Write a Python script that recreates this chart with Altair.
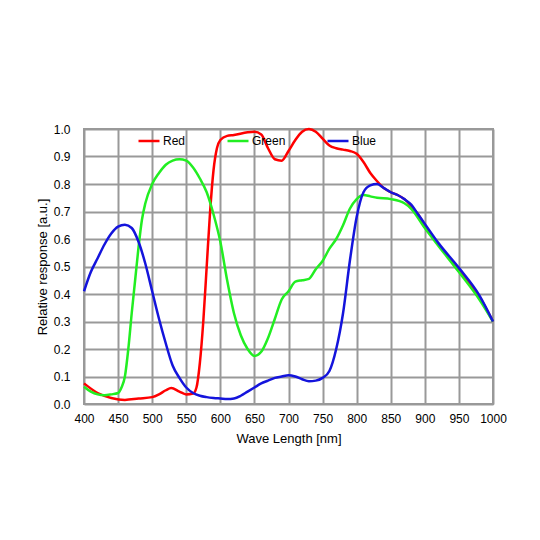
import altair as alt
import pandas as pd

red_x = [400,420,440,460,480,500,510,520,528,540,550,560,565,570,575,580,585,590,595,600,610,620,640,650,660,670,680,690,700,710,720,730,740,750,760,770,780,790,800,810,820,830,840,850,860,870,880,890,900,920,950,980,1000]
red_y = [0.075,0.04,0.022,0.015,0.02,0.025,0.035,0.05,0.058,0.045,0.035,0.038,0.06,0.15,0.3,0.5,0.7,0.85,0.93,0.96,0.975,0.978,0.988,0.99,0.98,0.93,0.89,0.885,0.92,0.96,0.99,1.0,0.99,0.965,0.94,0.93,0.925,0.92,0.91,0.88,0.84,0.81,0.785,0.77,0.76,0.745,0.72,0.69,0.65,0.58,0.49,0.39,0.30]

green_x = [400,410,420,430,440,450,455,460,465,470,475,480,485,490,500,510,520,530,540,550,560,570,580,590,600,610,620,630,640,650,660,670,680,690,700,710,720,730,740,750,760,770,780,790,800,810,820,830,850,870,880,900,920,950,980,1000]
green_y = [0.063,0.045,0.035,0.032,0.035,0.04,0.06,0.1,0.2,0.33,0.45,0.57,0.67,0.73,0.80,0.84,0.87,0.885,0.89,0.885,0.86,0.82,0.77,0.69,0.59,0.45,0.33,0.25,0.2,0.175,0.19,0.24,0.31,0.38,0.41,0.445,0.45,0.455,0.49,0.52,0.565,0.6,0.65,0.71,0.745,0.76,0.755,0.75,0.745,0.73,0.71,0.64,0.575,0.48,0.38,0.30]

blue_x = [400,410,420,430,440,450,460,470,480,490,500,510,520,530,540,550,560,570,580,590,600,610,620,630,640,650,660,670,680,690,700,710,720,730,740,750,760,770,780,790,800,810,820,830,840,850,860,870,880,890,900,920,950,980,1000]
blue_y = [0.41,0.48,0.53,0.58,0.62,0.645,0.652,0.64,0.59,0.51,0.41,0.31,0.22,0.14,0.095,0.06,0.04,0.03,0.025,0.022,0.02,0.018,0.02,0.03,0.045,0.06,0.075,0.085,0.095,0.1,0.105,0.1,0.09,0.083,0.085,0.095,0.12,0.2,0.33,0.52,0.68,0.77,0.795,0.8,0.785,0.77,0.76,0.745,0.725,0.69,0.655,0.585,0.495,0.395,0.30]

series = ["Red", "Green", "Blue"]
colors = ["#ff0000", "#22ee22", "#1414dc"]
x_ticks = list(range(400, 1001, 50))
y_ticks = [round(i * 0.1, 1) for i in range(11)]

rows = []
for name, xs, ys in [("Red", red_x, red_y), ("Green", green_x, green_y), ("Blue", blue_x, blue_y)]:
    for i, (a, b) in enumerate(zip(xs, ys)):
        rows.append({"series": name, "wl": a, "resp": b, "order": i})
df = pd.DataFrame(rows)

font = "Liberation Sans"

chart = alt.Chart(df).mark_line(strokeWidth=2.5, interpolate="monotone").encode(
    x=alt.X("wl:Q", title="Wave Length [nm]",
            scale=alt.Scale(domain=[400, 1000], nice=False, zero=False),
            axis=alt.Axis(values=x_ticks, format="d", grid=True, ticks=False, labelPadding=9,
                          labelOverlap=False, labelFlush=False,
                          titlePadding=8, domain=False)),
    y=alt.Y("resp:Q", title="Relative response [a.u.]",
            scale=alt.Scale(domain=[0, 1], nice=False),
            axis=alt.Axis(values=y_ticks, format=".1f", grid=True, ticks=False,
                          labelPadding=14, titlePadding=4, domain=False,
                          labelOverlap=False, labelFlush=False)),
    color=alt.Color("series:N", sort=series,
                    scale=alt.Scale(domain=series, range=colors),
                    legend=alt.Legend(title=None, orient="none", legendX=53, legendY=0,
                                      direction="horizontal", symbolType="stroke",
                                      symbolSize=441, symbolStrokeWidth=2.5,
                                      columnPadding=36, labelFontSize=12,
                                      labelFont=font, labelOffset=2)),
    order="order:Q",
    detail="series:N",
).properties(
    width=409, height=275,
    autosize=alt.AutoSizeParams(type="none"),
    padding={"left": 76, "top": 121, "right": 30, "bottom": 100},
).configure_view(
    stroke="#999999", strokeWidth=2
).configure_axis(
    gridColor="#999999", gridWidth=2, gridOpacity=1,
    labelFont=font, titleFont=font, labelFontSize=12, titleFontSize=13,
    labelColor="#000000", titleColor="#000000", titleFontWeight="normal"
)

chart.save("out.html", embed_options={"renderer": "svg", "actions": False})
